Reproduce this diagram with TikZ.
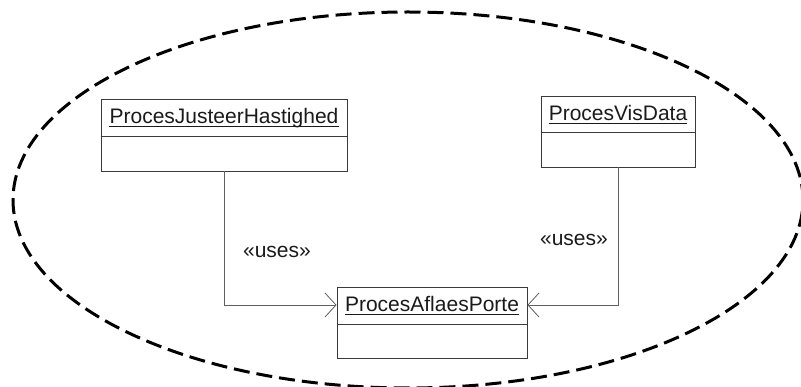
\documentclass[tikz,border=0pt]{standalone}
\usepackage{fontspec}
\setmainfont{Liberation Sans}
\usetikzlibrary{arrows.meta}

\definecolor{boxline}{HTML}{3A3A3A}
\definecolor{connline}{HTML}{606060}
\definecolor{inktext}{HTML}{1A1A1A}

\tikzset{
  classbox/.style={draw=boxline, line width=0.9pt, rectangle, inner sep=0pt},
  classtitle/.style={font=\fontsize{21}{25}\selectfont, text=inktext, inner sep=0pt, anchor=base},
  divider/.style={draw=boxline, line width=0.9pt},
  uline/.style={draw=inktext, line width=0.9pt},
  conn/.style={draw=connline, line width=0.9pt,
    -{Straight Barb[length=11pt, width=24pt, line width=0.8pt]}},
  stereo/.style={font=\fontsize{21}{25}\selectfont, text=inktext, inner sep=0pt},
  boundary/.style={draw=black, line width=3pt, dash pattern=on 16pt off 7pt}
}

\begin{document}
\begin{tikzpicture}[x=1pt, y=-1pt]
  \useasboundingbox (0,0) rectangle (801,387);

  % system boundary
  \draw[boundary] (408,200) ellipse [x radius=395pt, y radius=188pt];

  % class boxes
  \node[classbox, minimum width=246pt, minimum height=72pt] (jh) at (224,135) {};
  \node[classbox, minimum width=154pt, minimum height=71pt] (vd) at (618,131.5) {};
  \node[classbox, minimum width=190pt, minimum height=71pt] (ap) at (432,322.5) {};

  % compartment dividers
  \draw[divider] ([yshift=-38pt]jh.north west) -- ([yshift=-38pt]jh.north east);
  \draw[divider] ([yshift=-37pt]vd.north west) -- ([yshift=-37pt]vd.north east);
  \draw[divider] ([yshift=-38pt]ap.north west) -- ([yshift=-38pt]ap.north east);

  % class names
  \node[classtitle] (tjh) at (224,124) {ProcesJusteerHastighed};
  \node[classtitle] (tvd) at (618,121) {ProcesVisData};
  \node[classtitle] (tap) at (432,312) {ProcesAflaesPorte};
  \foreach \n in {tjh,tvd,tap}
    \draw[uline] ([yshift=-2.3pt]\n.base west) -- ([yshift=-2.3pt]\n.base east);

  % dependencies
  \draw[conn] (jh.south) |- ([yshift=17.5pt]ap.west);
  \draw[conn] (vd.south) |- ([yshift=17.5pt]ap.east);

  % stereotypes
  \node[stereo] (u1) at (277,252) {«uses»};
  \node[stereo] (u2) at (574,240) {«uses»};
\end{tikzpicture}
\end{document}
